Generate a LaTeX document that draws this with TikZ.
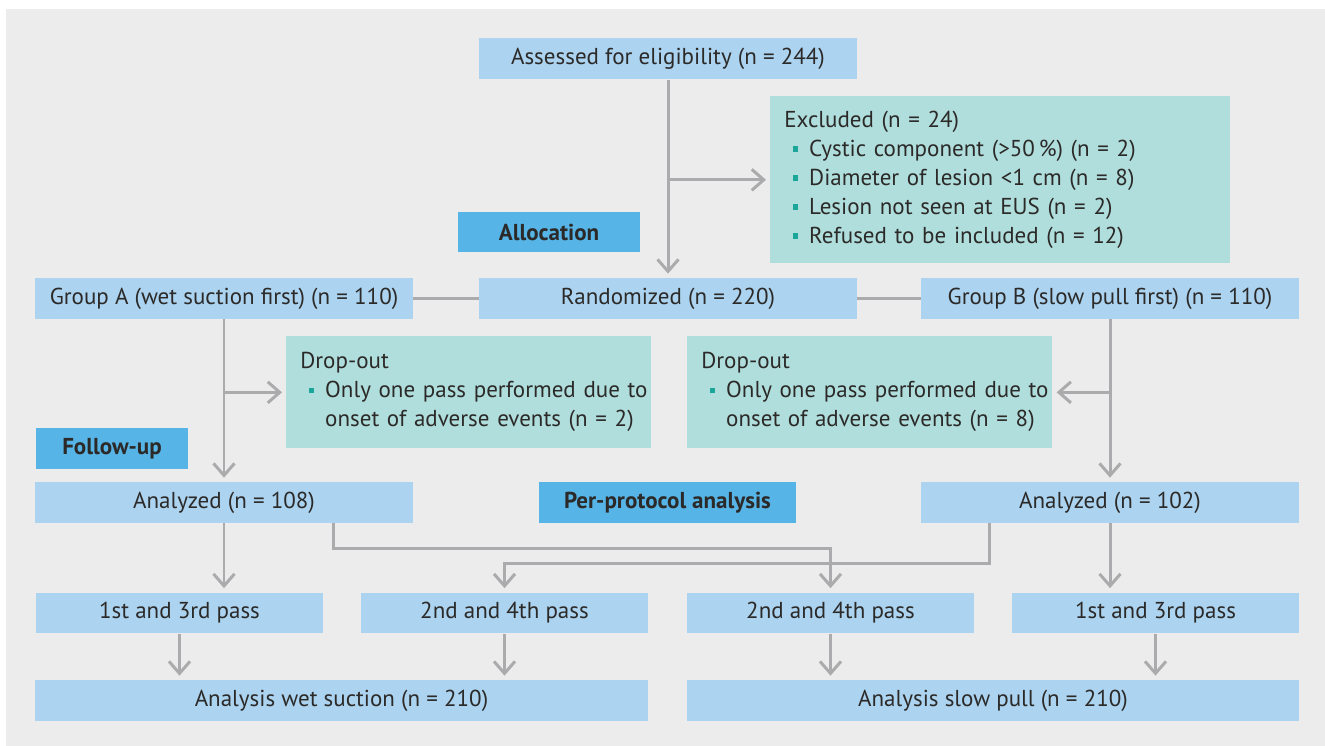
\documentclass[tikz,border=0pt]{standalone}
\usepackage{fontspec}
\setmainfont{PT Sans}
\usetikzlibrary{arrows.meta,calc}
\definecolor{bggray}{HTML}{EBECEB}
\definecolor{boxblue}{HTML}{ACD3EF}
\definecolor{boxteal}{HTML}{B0DEDC}
\definecolor{tagblue}{HTML}{56B4E6}
\definecolor{linegray}{HTML}{ABABAD}
\definecolor{dotteal}{HTML}{1AA79A}
\definecolor{txtdark}{HTML}{2B2A29}
\newcommand{\sqdot}{\hspace*{0.36em}\makebox[0.72em][l]{\textcolor{dotteal}{\rule[0.2em]{0.25em}{0.25em}}}}
\begin{document}
\begin{tikzpicture}[x=0.02cm,y=-0.02cm,
  every node/.style={text=txtdark, font=\fontsize{13.1}{16.5}\selectfont},
  box/.style={fill=boxblue, minimum width=7.56cm, minimum height=0.82cm, inner sep=0pt},
  passbox/.style={box, minimum width=5.76cm},
  widebox/.style={box, minimum width=12.26cm},
  tealbox/.style={fill=boxteal, anchor=north west, align=left, inner xsep=0.28cm, inner ysep=0pt},
  tag/.style={fill=tagblue, minimum height=0.82cm, inner sep=0pt, font=\fontsize{13.1}{16.5}\selectfont\bfseries},
  line/.style={draw=linegray, line width=1.7pt},
  arr/.style={line, -{Straight Barb[length=0.24cm, width=0.42cm]}, shorten >=0.08cm}]
\useasboundingbox (0,0) rectangle (1325,746);
\fill[bggray] (6,9) rectangle (1325,746);

% enrolment
\node[box] (assessed) at (668,59) {Assessed for eligibility (n = 244)};
\node[tealbox, text width=8.64cm, minimum height=3.34cm] (excluded) at (770,96)
  {Excluded (n = 24)\\
   \sqdot Cystic component (>50\,\%) (n = 2)\\
   \sqdot Diameter of lesion <1 cm (n = 8)\\
   \sqdot Lesion not seen at EUS (n = 2)\\
   \sqdot Refused to be included (n = 12)};
\node[tag, minimum width=3.64cm] (alloc) at (549,232) {Allocation};

% allocation
\node[box] (groupA) at (224,298.5) {Group A (wet suction first) (n = 110)};
\node[box] (random) at (668,298.5) {Randomized (n = 220)};
\node[box] (groupB) at (1110,298.5) {Group B (slow pull first) (n = 110)};
\node[tealbox, text width=6.74cm, minimum height=2.24cm] (dropA) at (286,336)
  {Drop-out\\
   \mbox{\sqdot Only one pass performed due to}\\
   \mbox{\hspace*{1.08em}onset of adverse events (n = 2)}};
\node[tealbox, text width=6.74cm, minimum height=2.24cm] (dropB) at (687,336)
  {Drop-out\\
   \mbox{\sqdot Only one pass performed due to}\\
   \mbox{\hspace*{1.08em}onset of adverse events (n = 8)}};
\node[tag, minimum width=3.04cm] (follow) at (112,448.5) {Follow-up};

% analysis
\node[box] (anaA) at (224,502.5) {Analyzed (n = 108)};
\node[tag, minimum width=5.14cm] (perprot) at (667.5,502.5) {Per-protocol analysis};
\node[box] (anaB) at (1110,502.5) {Analyzed (n = 102)};
\node[passbox] (pass1) at (179.5,613) {1st and 3rd pass};
\node[passbox] (pass2) at (504.5,613) {2nd and 4th pass};
\node[passbox] (pass3) at (830.5,613) {2nd and 4th pass};
\node[passbox] (pass4) at (1155.5,613) {1st and 3rd pass};
\node[widebox] (wet) at (341.5,700.5) {Analysis wet suction (n = 210)};
\node[widebox] (slow) at (993,700.5) {Analysis slow pull (n = 210)};

% connectors
\draw[arr] (assessed) -- (random);
\draw[arr] (assessed.south |- excluded.west) -- (excluded.west);
\draw[line] (groupA) -- (random);
\draw[line] (random) -- (groupB);
\draw[arr] (groupA) -- (anaA);
\draw[arr] (groupA.south |- dropA.west) -- (dropA.west);
\draw[arr] (groupB) -- (anaB);
\draw[arr] (groupB.south |- dropB.east) -- (dropB.east);
\draw[arr] (anaA.south) -- (anaA.south |- pass1.north);
\draw[arr] (anaB.south) -- (anaB.south |- pass4.north);
\draw[arr] ($(anaA.south east)+(-80,0)$) -- ++(0,25) -| (pass3.north);
\draw[arr] ($(anaB.south west)+(69,0)$) -- ++(0,40) -| (pass2.north);
\foreach \p/\t in {pass1/wet, pass2/wet, pass3/slow, pass4/slow}
  \draw[arr] (\p.south) -- (\p.south |- \t.north);
\end{tikzpicture}
\end{document}
